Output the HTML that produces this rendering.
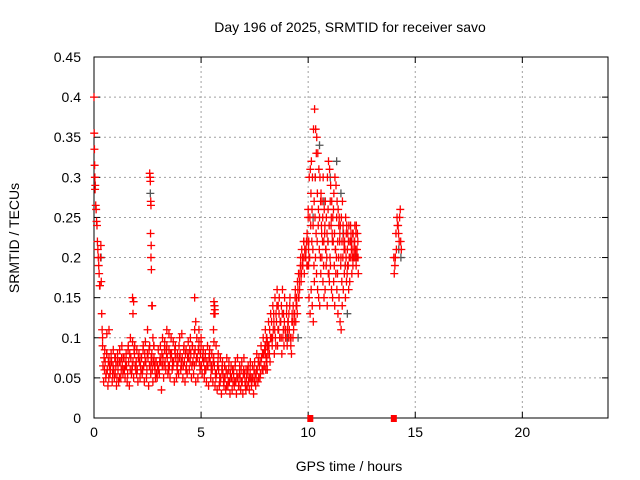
<!DOCTYPE html>
<html><head><meta charset="utf-8"><style>
body{margin:0;background:#fff}
svg{display:block;font-family:"Liberation Sans",sans-serif}
</style></head><body>
<svg id="chart" width="640" height="480">
<rect width="640" height="480" fill="#fff"/>
<text x="350" y="32" font-size="14" text-anchor="middle" fill="#000">Day 196 of 2025, SRMTID for receiver savo</text>
<text x="349" y="471" font-size="14" text-anchor="middle" fill="#000">GPS time / hours</text>
<text transform="translate(19,238) rotate(-90)" font-size="14" text-anchor="middle" fill="#000">SRMTID / TECUs</text>
<g id="grid"></g><g id="axes"></g><g id="marks"></g>
</svg>
<script>
const xTicks=[0,5,10,15,20];
const yTicks=[0,0.05,0.1,0.15,0.2,0.25,0.3,0.35,0.4,0.45];
const yTickLabels=["0","0.05","0.1","0.15","0.2","0.25","0.3","0.35","0.4","0.45"];
// early spike
const spikeHours=[0,0.01,0.02,0.03,0.04,0.05,0.06,0.08,0.1,0.12,0.14,0.16,0.18,0.2,0.22,0.24,0.26,0.28,0.3,0.32,0.34,0.36,0.38,0.4];
const spikeVals=[0.4,0.355,0.335,0.315,0.3,0.285,0.29,0.265,0.26,0.245,0.24,0.22,0.21,0.2,0.19,0.18,0.165,0.165,0.2,0.215,0.17,0.13,0.11,0.1];
// isolated spikes
const isoHours=[2.6,2.62,2.63,2.65,2.66,2.64,2.67,2.66,2.68,2.7,2.72,2.75,2.8,5.6,5.62,5.64,5.6,5.65,5.58,1.8,1.85,1.82,4.7,4.75,3.4,3.5,4.9,5.0,0.6,0.7];
const isoVals=[0.305,0.3,0.295,0.27,0.265,0.23,0.215,0.2,0.185,0.14,0.14,0.1,0.09,0.145,0.14,0.135,0.13,0.13,0.11,0.15,0.145,0.13,0.15,0.12,0.11,0.105,0.11,0.1,0.105,0.11];
// baseline cloud (start hour, step 0.1)
const baseStart=[0.4,0.45,0.42,0.47,0.49];
const baseA=[.09,.085,.08,.075,.08,.085,.075,.08,.085,.09,.075,.08,.09,.1,.095,.09,.085,.08,.075,.09,.095,.11,.09,.08,.075,.07,.085,.09,.1,.095,.09,.085,.1,.095,.09,.08,.1,.105,.09,.085,.095,.1,.09,.11,.1,.095,.09,.085,.08,.09,.085,.08,.095,.09,.08,.075,.07,.065,.075,.07,.065,.06,.07,.075,.065,.07,.075,.06,.065,.07,.065,.07,.08,.075,.09,.1,.11];
const baseB=[.045,.05,.04,.055,.045,.05,.04,.045,.05,.055,.05,.045,.04,.055,.05,.06,.045,.05,.055,.045,.05,.04,.055,.045,.06,.05,.055,.035,.05,.06,.055,.05,.06,.045,.05,.055,.06,.05,.045,.055,.06,.05,.055,.045,.05,.06,.055,.05,.045,.04,.05,.045,.04,.035,.04,.03,.045,.035,.04,.03,.035,.04,.03,.04,.035,.03,.045,.04,.035,.04,.03,.04,.045,.05,.06,.065,.075];
const baseC=[.065,.07,.06,.065,.07,.06,.065,.06,.07,.065,.06,.065,.07,.075,.07,.065,.06,.07,.075,.065,.07,.075,.065,.06,.065,.055,.06,.07,.075,.07,.075,.065,.08,.07,.075,.07,.08,.075,.07,.065,.075,.08,.07,.085,.075,.07,.065,.07,.06,.065,.07,.06,.065,.055,.06,.05,.055,.05,.055,.045,.05,.055,.045,.05,.05,.045,.055,.05,.045,.05,.05,.055,.06,.065,.075,.08,.09];
const baseD=[.075,.055,.07,.06,.055,.075,.05,.07,.06,.075,.065,.055,.08,.06,.085,.07,.075,.065,.06,.08,.06,.085,.075,.07,.05,.065,.07,.08,.065,.085,.065,.08,.07,.085,.065,.09,.07,.065,.08,.075,.085,.065,.08,.07,.085,.08,.075,.06,.07,.075,.06,.07,.055,.065,.05,.06,.04,.06,.045,.055,.06,.045,.055,.04,.06,.055,.04,.06,.05,.045,.06,.05,.07,.055,.08,.085,.1];
const baseE=[.06,.08,.05,.07,.065,.055,.07,.05,.075,.06,.07,.085,.06,.065,.08,.055,.075,.06,.085,.07,.08,.065,.07,.09,.07,.06,.075,.065,.085,.08,.06,.075,.065,.08,.06,.075,.065,.085,.06,.08,.07,.09,.065,.075,.085,.065,.08,.075,.065,.08,.065,.075,.05,.07,.045,.065,.05,.04,.06,.05,.045,.065,.05,.055,.045,.06,.035,.055,.06,.05,.045,.06,.05,.07,.06,.09,.095];
// rise 8-10 (step 0.05)
const riseStart=[8.0,8.02,8.04];
const riseA=[.08,.1,.09,.12,.11,.13,.1,.14,.12,.15,.13,.16,.14,.15,.12,.14,.16,.13,.15,.11,.14,.12,.13,.15,.1,.13,.14,.12,.16,.15,.17,.18,.16,.2,.21,.19,.22,.2,.21,.23,.25];
const riseB=[.06,.07,.08,.09,.07,.1,.09,.11,.08,.1,.12,.09,.11,.1,.12,.08,.1,.09,.11,.1,.09,.12,.11,.1,.08,.12,.11,.13,.12,.14,.16,.15,.18,.17,.19,.2,.18,.2,.22,.19,.21];
const riseC=[.07,.06,.09,.08,.1,.12,.1,.13,.11,.09,.14,.11,.13,.12,.1,.13,.11,.12,.1,.13,.11,.1,.14,.09,.12,.1,.13,.15,.14,.13,.15,.17,.19,.18,.2,.22,.21,.2,.19,.22,.2];
// high activity 10-12.3 (step 0.05)
const highStart=[10.0,10.02,10.04,10.03];
const highA=[.26,.3,.31,.32,.3,.36,.385,.36,.35,.33,.31,.3,.28,.27,.3,.26,.27,.25,.3,.32,.31,.29,.27,.25,.28,.3,.29,.27,.26,.25,.24,.25,.27,.23,.22,.25,.24,.23,.24,.22,.23,.21,.23,.22,.21,.24,.23];
const highB=[.19,.2,.24,.22,.21,.19,.25,.23,.22,.24,.21,.2,.24,.22,.19,.23,.21,.2,.22,.18,.2,.24,.23,.22,.19,.21,.2,.18,.2,.22,.19,.17,.2,.22,.21,.2,.18,.19,.2,.22,.21,.2,.2,.22,.21,.2,.22];
const highC=[.15,.13,.16,.14,.12,.17,.2,.18,.16,.15,.14,.18,.2,.17,.15,.16,.19,.14,.18,.17,.19,.16,.15,.17,.14,.18,.16,.13,.15,.12,.11,.14,.16,.18,.15,.17,.19,.16,.17,.2,.18,.19,.21,.2,.19,.2,.18];
const highD=[.22,.25,.28,.26,.24,.27,.3,.33,.28,.26,.25,.27,.23,.25,.22,.24,.21,.23,.26,.24,.27,.25,.22,.26,.23,.21,.25,.22,.24,.23,.2,.22,.24,.21,.19,.23,.21,.22,.2,.24,.22,.23,.2,.24,.23,.21,.2];
// 14h group
const lateHours=[14.0,14.05,14.1,14.15,14.2,14.25,14.3,14.35,14.02,14.07,14.12,14.17,14.22,14.27,14.32];
const lateVals=[.2,.19,.23,.25,.24,.22,.26,.21,.18,.2,.21,.24,.23,.25,.22];
// gray series
const grayHours=[0.3,2.6,5.6,9.0,9.5,10.3,10.5,10.7,11.0,11.3,11.5,11.6,11.8,12.0,12.2,14.2,14.3,10.2,10.9,11.7];
const grayVals=[0.2,0.28,0.14,0.1,0.1,0.3,0.34,0.27,0.3,0.32,0.28,0.23,0.13,0.22,0.2,0.21,0.2,0.25,0.22,0.19];
// zero-value squares
const zeroHours=[10.1,14.0];
const zeroVals=[0,0];

const X0=94,X1=608,Y0=418,Y1=57,XMAX=24,YMAX=0.45;
const xs=h=>X0+(X1-X0)*h/XMAX;
const ys=v=>Y0-(Y0-Y1)*v/YMAX;
const NS="http://www.w3.org/2000/svg";
const grid=document.getElementById('grid'),axes=document.getElementById('axes'),marks=document.getElementById('marks');
function mk(tag,attrs,parent){const e=document.createElementNS(NS,tag);for(const k in attrs)e.setAttribute(k,attrs[k]);parent.appendChild(e);return e;}
yTicks.forEach((v,i)=>{
  const y=ys(v);
  if(i>0&&i<yTicks.length-1){const g=mk('line',{x1:X0,x2:X1,y1:y,y2:y,stroke:'#a0a0a0','stroke-dasharray':'2,3'},grid);
  
  }
  const t=mk('text',{x:81,y:y+5,'font-size':14,'text-anchor':'end',fill:'#000'},axes);t.textContent=yTickLabels[i];
  
  
  mk('line',{x1:X0,x2:X0+6,y1:y,y2:y,stroke:'#000'},axes);
  mk('line',{x1:X1,x2:X1-6,y1:y,y2:y,stroke:'#000'},axes);
});
xTicks.forEach(h=>{
  const x=xs(h);
  if(h>0){const g=mk('line',{x1:x,x2:x,y1:Y0,y2:Y1,stroke:'#a0a0a0','stroke-dasharray':'2,3'},grid);
  
  }
  const t=mk('text',{x:x,y:Y0+19,'font-size':14,'text-anchor':'middle',fill:'#000'},axes);t.textContent=String(h);
  
  
  mk('line',{x1:x,x2:x,y1:Y0,y2:Y0-6,stroke:'#000'},axes);
  mk('line',{x1:x,x2:x,y1:Y1,y2:Y1+6,stroke:'#000'},axes);
});
const frame=mk('rect',{x:X0,y:Y1,width:X1-X0,height:Y0-Y1,fill:'none',stroke:'#000'},axes);


function plus(h,v,color){
  const x=xs(h),y=ys(v);
  const p=mk('path',{d:`M${x-4},${y}H${x+4}M${x},${y-4}V${y+4}`,stroke:color,'stroke-width':1.3,fill:'none'},marks);
  
  
}
grayHours.forEach((h,i)=>plus(h+0.03,grayVals[i],'#555'));
spikeHours.forEach((h,i)=>plus(h,spikeVals[i],'#f00'));
isoHours.forEach((h,i)=>plus(h,isoVals[i],'#f00'));
[baseA,baseB,baseC,baseD,baseE].forEach((arr,k)=>arr.forEach((v,i)=>plus(baseStart[k]+i*0.1,v,'#f00')));
[riseA,riseB,riseC].forEach((arr,k)=>arr.forEach((v,i)=>plus(riseStart[k]+i*0.05,v,'#f00')));
[highA,highB,highC,highD].forEach((arr,k)=>arr.forEach((v,i)=>plus(highStart[k]+i*0.05,v,'#f00')));
lateHours.forEach((h,i)=>plus(h,lateVals[i],'#f00'));
zeroHours.forEach((h,i)=>{
  const r=mk('rect',{x:xs(h)-3,y:ys(zeroVals[i])-3,width:6,height:7,fill:'#f00'},marks);
  
  
});
</script>
</body></html>
